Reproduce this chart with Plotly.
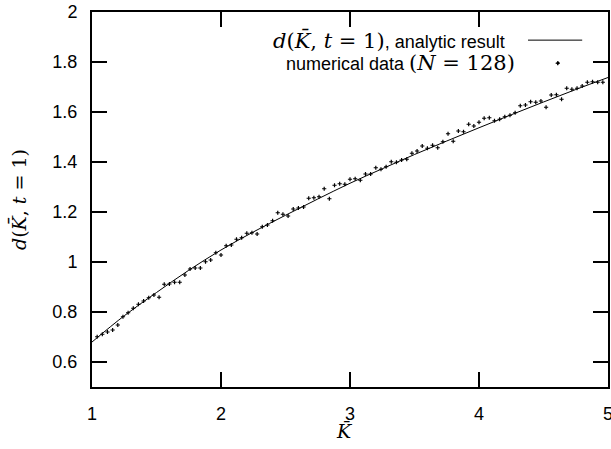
import plotly.graph_objects as go

# analytic curve d(K, t=1)
curve_k = [1.00, 1.25, 1.50, 1.75, 2.00, 2.25, 2.50, 2.75, 3.00, 3.25, 3.50,
           3.75, 4.00, 4.25, 4.50, 4.75, 5.00]
curve_d = [0.680, 0.785, 0.878, 0.967, 1.048, 1.120, 1.187, 1.252, 1.315, 1.373,
           1.430, 1.484, 1.537, 1.589, 1.640, 1.690, 1.738]

# numerical data (N = 128), K = 1.04 ... 4.96 in steps of 0.04, plus one outlier
data_k = [round(1 + 0.04 * i, 2) for i in range(1, 100)] + [4.61]
data_d = [0.701, 0.711, 0.720, 0.728, 0.748, 0.781, 0.797, 0.815, 0.831, 0.844,
          0.857, 0.868, 0.859, 0.911, 0.912, 0.919, 0.919, 0.948, 0.972, 0.976,
          0.976, 1.001, 1.008, 1.037, 1.028, 1.065, 1.068, 1.091, 1.097, 1.115,
          1.117, 1.112, 1.141, 1.148, 1.165, 1.197, 1.191, 1.184, 1.212, 1.216,
          1.220, 1.255, 1.257, 1.261, 1.293, 1.253, 1.307, 1.313, 1.311, 1.331,
          1.333, 1.327, 1.352, 1.352, 1.377, 1.371, 1.381, 1.401, 1.399, 1.408,
          1.411, 1.435, 1.444, 1.464, 1.455, 1.467, 1.457, 1.481, 1.513, 1.483,
          1.524, 1.521, 1.551, 1.544, 1.559, 1.575, 1.577, 1.565, 1.571, 1.581,
          1.587, 1.597, 1.625, 1.628, 1.641, 1.639, 1.644, 1.619, 1.668, 1.669,
          1.651, 1.695, 1.691, 1.695, 1.704, 1.719, 1.721, 1.719, 1.719, 1.795]

x_ticks = [1, 2, 3, 4, 5]
y_ticks = [0.6, 0.8, 1.0, 1.2, 1.4, 1.6, 1.8, 2.0]
y_tick_labels = ["0.6", "0.8", "1", "1.2", "1.4", "1.6", "1.8", "2"]

SANS = "Liberation Sans"
SERIF = "DejaVu Serif"


def m(s, size=21):
    return f"<span style='font-family:{SERIF};font-size:{size}px'>{s}</span>"


fig = go.Figure()
fig.add_trace(go.Scatter(x=curve_k, y=curve_d, mode="lines",
                         line=dict(color="black", width=1, shape="spline"),
                         showlegend=False, hoverinfo="skip"))
fig.add_trace(go.Scatter(x=data_k, y=data_d, mode="markers",
                         marker=dict(symbol="cross-thin", size=3, color="black",
                                     line=dict(color="black", width=1.2)),
                         showlegend=False))

axis_common = dict(showline=True, linecolor="black", linewidth=2, mirror="ticks",
                   ticks="inside", ticklen=15, tickwidth=2, tickcolor="black",
                   showgrid=False, zeroline=False, automargin=False,
                   ticklabeloverflow="allow",
                   tickfont=dict(family=SANS, size=18, color="black"))

fig.update_xaxes(range=[1, 5], tickvals=x_ticks, ticktext=[str(v) for v in x_ticks],
                 ticklabelstandoff=9, **axis_common)
fig.update_yaxes(range=[0.5, 2], tickvals=y_ticks, ticktext=y_tick_labels,
                 ticklabelstandoff=9,
                 title=dict(text=m("<i>d</i>(<i>K̄</i>, <i>t</i> = 1)", 19),
                            font=dict(family=SERIF, size=19, color="black"), standoff=21),
                 **axis_common)

# x-axis title
fig.add_annotation(xref="paper", yref="paper", x=0.49, y=-0.118, xanchor="center",
                   yanchor="middle", showarrow=False, text=m("<i>K̄</i>", 19),
                   font=dict(family=SERIF, size=19, color="black"))

# legend (text right-justified, sample to the right, like the original)
fig.add_annotation(xref="paper", yref="paper", x=0.804, y=0.925, xanchor="right",
                   yanchor="middle", showarrow=False,
                   text=m("<i>d</i>(<i>K̄</i>, <i>t</i> = 1)") + ", analytic result",
                   font=dict(family=SANS, size=18, color="black"))
fig.add_annotation(xref="paper", yref="paper", x=0.824, y=0.864, xanchor="right",
                   yanchor="middle", showarrow=False,
                   text="numerical data " + m("(<i>N</i> = 128)"),
                   font=dict(family=SANS, size=18, color="black"))
fig.add_shape(type="line", xref="paper", yref="paper", x0=0.845, x1=0.95,
              y0=0.925, y1=0.925, line=dict(color="black", width=1))
fig.add_shape(type="circle", xref="paper", yref="paper", x0=0.9005, x1=0.9055,
              y0=0.8605, y1=0.8675, line=dict(color="black", width=0.5),
              fillcolor="black")

fig.update_layout(width=611, height=449, margin=dict(l=92, r=3, t=12, b=62),
                  plot_bgcolor="white", paper_bgcolor="white",
                  font=dict(family=SANS, color="black"))

# remove the browser's default 8px page margin so the figure fills the window exactly
fig.write_html("out.html", config={"displayModeBar": False},
               post_script="document.body.style.margin='0px';")
